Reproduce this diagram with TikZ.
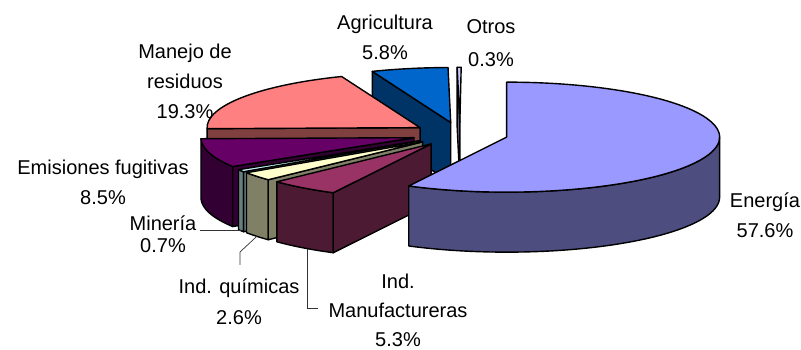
\documentclass[tikz,border=0pt]{standalone}
\usepackage{fontspec}
\setmainfont{Liberation Sans}
\usepackage{tikz}

\definecolor{enTop}{HTML}{9999FF}\definecolor{enSide}{HTML}{4D4D80}
\definecolor{maTop}{HTML}{993366}\definecolor{maSide}{HTML}{4D1A33}
\definecolor{quTop}{HTML}{FFFFCC}\definecolor{quSide}{HTML}{808066}
\definecolor{miTop}{HTML}{CCFFFF}\definecolor{miSide}{HTML}{668080}
\definecolor{emTop}{HTML}{660066}\definecolor{emSide}{HTML}{330033}
\definecolor{reTop}{HTML}{FF8080}\definecolor{reSide}{HTML}{804040}
\definecolor{agTop}{HTML}{0066CC}\definecolor{agSide}{HTML}{003366}
\definecolor{otTop}{HTML}{CCCCFF}\definecolor{otSide}{HTML}{666680}

\tikzset{
  face/.style={draw=black, line width=1.4pt, line join=round},
  rim/.style={x radius=213pt, y radius=55pt},
  lbl/.style={font=\fontsize{20}{30}\selectfont, align=center, anchor=north, inner sep=0pt},
  leader/.style={draw=black!80, line width=0.7pt}
}

\begin{document}
\begin{tikzpicture}[x=1pt,y=1pt]
		\useasboundingbox (0,0) rectangle (801,350);
		\coordinate (O) at (460,215.7);
		
		% centres of the pulled-out slices
		\path (O) ++(90.18:48pt and 12pt) coordinate (cOt);
		\path (O) ++(101.16:48pt and 12pt) coordinate (cAg);
		\path (O) ++(146.34:48pt and 12pt) coordinate (cRe);
		\path (O) ++(196.38:48pt and 12pt) coordinate (cEm);
		\path (O) ++(212.94:48pt and 12pt) coordinate (cMi);
		\path (O) ++(218.88:48pt and 12pt) coordinate (cQu);
		\path (O) ++(233.1:48pt and 12pt) coordinate (cMa);
		\path (O) ++(-13.68:48pt and 12pt) coordinate (cEn);
		
		% Otros
		\filldraw[face, fill=otSide] (cOt) -- ++(90.72:213pt and 55pt) -- ++(0,-60) -- ++(270.72:213pt and 55pt) -- cycle;
		\filldraw[face, fill=otTop] (cOt) -- ++(89.64:213pt and 55pt) arc[rim, start angle=89.64, end angle=90.72] -- cycle;
		
		% Agricultura
		\filldraw[face, fill=agSide] (cAg) -- ++(111.6:213pt and 55pt) -- ++(0,-60) -- ++(291.6:213pt and 55pt) -- cycle;
		\filldraw[face, fill=agTop] (cAg) -- ++(90.72:213pt and 55pt) arc[rim, start angle=90.72, end angle=111.6] -- cycle;
		
		% Manejo de residuos
		\filldraw[face, fill=reSide] (cRe) -- ++(181.08:213pt and 55pt) -- ++(0,-60) -- ++(1.08:213pt and 55pt) -- cycle;
		\filldraw[face, fill=reTop] (cRe) -- ++(111.6:213pt and 55pt) arc[rim, start angle=111.6, end angle=181.08] -- cycle;
		
		% Emisiones fugitivas
		\filldraw[face, fill=emSide] (cEm) ++(181.08:213pt and 55pt) arc[rim, start angle=181.08, end angle=211.68] -- ++(0,-60) arc[rim, start angle=211.68, end angle=181.08] -- cycle;
		\filldraw[face, fill=emSide] (cEm) -- ++(211.68:213pt and 55pt) -- ++(0,-60) -- ++(31.68:213pt and 55pt) -- cycle;
		\filldraw[face, fill=emTop] (cEm) -- ++(181.08:213pt and 55pt) arc[rim, start angle=181.08, end angle=211.68] -- cycle;
		
		% Mineria
		\filldraw[face, fill=miSide] (cMi) ++(211.68:213pt and 55pt) arc[rim, start angle=211.68, end angle=214.2] -- ++(0,-60) arc[rim, start angle=214.2, end angle=211.68] -- cycle;
		\filldraw[face, fill=miSide] (cMi) -- ++(214.2:213pt and 55pt) -- ++(0,-60) -- ++(34.2:213pt and 55pt) -- cycle;
		\filldraw[face, fill=miTop] (cMi) -- ++(211.68:213pt and 55pt) arc[rim, start angle=211.68, end angle=214.2] -- cycle;
		
		% Ind. quimicas
		\filldraw[face, fill=quSide] (cQu) ++(214.2:213pt and 55pt) arc[rim, start angle=214.2, end angle=223.56] -- ++(0,-60) arc[rim, start angle=223.56, end angle=214.2] -- cycle;
		\filldraw[face, fill=quSide] (cQu) -- ++(223.56:213pt and 55pt) -- ++(0,-60) -- ++(43.56:213pt and 55pt) -- cycle;
		\filldraw[face, fill=quTop] (cQu) -- ++(214.2:213pt and 55pt) arc[rim, start angle=214.2, end angle=223.56] -- cycle;
		
		% Ind. Manufactureras
		\filldraw[face, fill=maSide] (cMa) ++(223.56:213pt and 55pt) arc[rim, start angle=223.56, end angle=242.64] -- ++(0,-60) arc[rim, start angle=242.64, end angle=223.56] -- cycle;
		\filldraw[face, fill=maSide] (cMa) -- ++(242.64:213pt and 55pt) -- ++(0,-60) -- ++(62.64:213pt and 55pt) -- cycle;
		\filldraw[face, fill=maTop] (cMa) -- ++(223.56:213pt and 55pt) arc[rim, start angle=223.56, end angle=242.64] -- cycle;
		
		% Energia
		\filldraw[face, fill=enSide] (cEn) ++(-117.36:213pt and 55pt) arc[rim, start angle=-117.36, end angle=0] -- ++(0,-60) arc[rim, start angle=0, end angle=-117.36] -- cycle;
		\filldraw[face, fill=enTop] (cEn) -- ++(-117.36:213pt and 55pt) arc[rim, start angle=-117.36, end angle=90] -- cycle;
		
		% labels
		\node[lbl] (lblAg) at (385,335.3) {Agricultura\\5.8\%};
		\node[lbl] (lblOt) at (491,330.3) {Otros\\[2.5pt]0.3\%};
		\node[lbl] (lblRe) at (185,306.3) {Manejo de\\residuos\\19.3\%};
		\node[lbl] (lblEm) at (103,190) {Emisiones fugitivas\\8.5\%};
		\node[lbl] (lblMi) at (163,134.3) {Minería\\[-8pt]0.7\%};
		\node[lbl] (lblQu) at (239,71.3) {Ind. químicas\\[1pt]2.6\%};
		\node[lbl] (lblMa) at (398,76.3) {Ind.\\[-1pt]Manufactureras\\[-1pt]5.3\%};
		\node[lbl] (lblEn) at (765,157.3) {Energía\\57.6\%};
		
		% leader lines
		\path (cMi) ++(212.94:213pt and 55pt) ++(0,-60) coordinate (miTip);
		\path (cQu) ++(218.88:213pt and 55pt) ++(0,-60) coordinate (quTip);
		\path (cMa) ++(234.3:213pt and 55pt) ++(0,-60) coordinate (maTip);
		\coordinate (miEnd) at (200,120);
		\coordinate (quBend) at (240,98);
		\coordinate (quEnd) at (240,85);
		\coordinate (maEnd) at (318,42);
		\draw[leader] (miEnd) -- (miEnd -| miTip);
		\draw[leader] (quTip) -- (quBend) -- (quEnd);
		\draw[leader] (maTip) |- (maEnd);
		
\end{tikzpicture}
\end{document}
